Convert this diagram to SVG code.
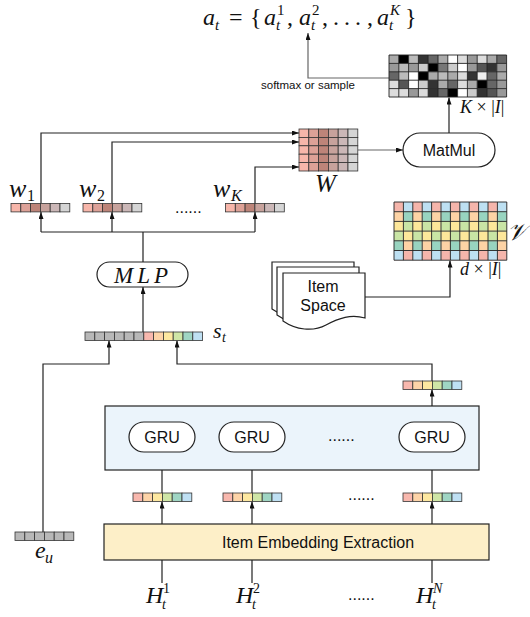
<svg xmlns="http://www.w3.org/2000/svg" xmlns:xlink="http://www.w3.org/1999/xlink" width="530" height="617" viewBox="0 0 530 617">
<style>
.ln{fill:none;stroke:#222;stroke-width:1.2}
.lg{fill:none;stroke:#666;stroke-width:1.2}
.cell{stroke:#333;stroke-width:0.8}
.grid{fill:none;stroke:#222;stroke-width:0.9}
.node{fill:#fff;stroke:#222;stroke-width:1.2}
.m{font-family:"Liberation Serif","DejaVu Serif",serif;font-style:italic;fill:#111}
.r{font-family:"Liberation Serif","DejaVu Serif",serif;fill:#111}
.s{font-family:"Liberation Sans",Arial,sans-serif;fill:#111}
.cal{font-family:"DejaVu Serif",serif;font-style:italic;fill:#111}
</style>
<defs>
<marker id="ah" viewBox="0 0 7 5" refX="7" refY="2.5" markerWidth="7" markerHeight="5" markerUnits="userSpaceOnUse" orient="auto"><path d="M0,0 L7,2.5 L0,5 z" fill="#111"/></marker>
<g id="wv" class="cell">
<rect x="0" y="0" width="9.8" height="8.4" fill="#f7b6aa"/>
<rect x="9.8" y="0" width="9.8" height="8.4" fill="#dda197"/>
<rect x="19.6" y="0" width="9.8" height="8.4" fill="#bd8479"/>
<rect x="29.4" y="0" width="9.8" height="8.4" fill="#c7a29c"/>
<rect x="39.2" y="0" width="9.8" height="8.4" fill="#cbb7b7"/>
<rect x="49" y="0" width="9.8" height="8.4" fill="#d5d5d5"/>
</g>
<g id="cv" class="cell">
<rect x="0" y="0" width="9.8" height="8.4" fill="#f8b8ae"/>
<rect x="9.8" y="0" width="9.8" height="8.4" fill="#fdd4a8"/>
<rect x="19.6" y="0" width="9.8" height="8.4" fill="#fde8a0"/>
<rect x="29.4" y="0" width="9.8" height="8.4" fill="#cfe6a6"/>
<rect x="39.2" y="0" width="9.8" height="8.4" fill="#9fd5c3"/>
<rect x="49" y="0" width="9.8" height="8.4" fill="#bfe0f3"/>
</g>
<g id="gv" class="cell" fill="#b8b8b8">
<rect x="0" y="0" width="9.8" height="8.4"/>
<rect x="9.8" y="0" width="9.8" height="8.4"/>
<rect x="19.6" y="0" width="9.8" height="8.4"/>
<rect x="29.4" y="0" width="9.8" height="8.4"/>
<rect x="39.2" y="0" width="9.8" height="8.4"/>
<rect x="49" y="0" width="9.8" height="8.4"/>
</g>
<pattern id="vpat" x="394" y="202" width="18.8" height="58.2" patternUnits="userSpaceOnUse">
<rect x="0" y="0" width="9.4" height="9.7" fill="#f5b5ab"/><rect x="9.4" y="0" width="9.4" height="9.7" fill="#bde0f2"/>
<rect x="0" y="9.7" width="9.4" height="9.7" fill="#fdd3a5"/><rect x="9.4" y="9.7" width="9.4" height="9.7" fill="#98d4c0"/>
<rect x="0" y="19.4" width="9.4" height="9.7" fill="#fde79a"/><rect x="9.4" y="19.4" width="9.4" height="9.7" fill="#c9e5a5"/>
<rect x="0" y="29.1" width="9.4" height="9.7" fill="#c9e5a5"/><rect x="9.4" y="29.1" width="9.4" height="9.7" fill="#fde79a"/>
<rect x="0" y="38.8" width="9.4" height="9.7" fill="#98d4c0"/><rect x="9.4" y="38.8" width="9.4" height="9.7" fill="#fdd3a5"/>
<rect x="0" y="48.5" width="9.4" height="9.7" fill="#bde0f2"/><rect x="9.4" y="48.5" width="9.4" height="9.7" fill="#f5b5ab"/>
</pattern>
</defs>

<rect width="530" height="617" fill="#fff"/>

<g id="formula">
<text class="m" x="203" y="25" font-size="24">a</text>
<text class="m" x="215" y="30" font-size="15">t</text>
<text class="r" x="229" y="25" font-size="24">=</text>
<text class="r" x="250" y="25" font-size="24">{</text>
<text class="m" x="264" y="25" font-size="24">a</text>
<text class="r" x="277" y="15" font-size="15">1</text>
<text class="m" x="276" y="30" font-size="15">t</text>
<text class="r" x="287" y="25" font-size="24">,</text>
<text class="m" x="299" y="25" font-size="24">a</text>
<text class="r" x="312" y="15" font-size="15">2</text>
<text class="m" x="311" y="30" font-size="15">t</text>
<text class="r" x="322" y="25" font-size="24">,</text>
<text class="r" x="333" y="25" font-size="24" letter-spacing="5">...</text>
<text class="r" x="367" y="25" font-size="24">,</text>
<text class="m" x="377" y="25" font-size="24">a</text>
<text class="m" x="390" y="15" font-size="15">K</text>
<text class="m" x="389" y="30" font-size="15">t</text>
<text class="r" x="405" y="25" font-size="24">}</text>
</g>

<g id="connectors">
<path class="lg" d="M389,78 H308 V33" marker-end="url(#ah)"/>
<path class="ln" d="M449,133 V97.5" marker-end="url(#ah)"/>
<path class="lg" d="M358,150 H403" marker-end="url(#ah)"/>
<path class="ln" d="M41,203 V133 H299" marker-end="url(#ah)"/>
<path class="ln" d="M112,203 V142 H299" marker-end="url(#ah)"/>
<path class="ln" d="M255,203 V167 H299" marker-end="url(#ah)"/>
<path class="ln" d="M143,262 V232 M41,232 H255"/>
<path class="ln" d="M41,232 V212" marker-end="url(#ah)"/>
<path class="ln" d="M112,232 V212" marker-end="url(#ah)"/>
<path class="ln" d="M255,232 V212" marker-end="url(#ah)"/>
<path class="ln" d="M143,332 V287" marker-end="url(#ah)"/>
<path class="ln" d="M43,532 V364 H109 V340.5" marker-end="url(#ah)"/>
<path class="ln" d="M432,381 V364 H177 V340.5" marker-end="url(#ah)"/>
<path class="ln" d="M432,422 V389.5" marker-end="url(#ah)"/>
<path class="ln" d="M365,297 H450 V260.5" marker-end="url(#ah)"/>
<path class="ln" d="M195,437 H219" marker-end="url(#ah)"/>
<path class="ln" d="M285,437 H308" marker-end="url(#ah)"/>
<path class="ln" d="M375,437 H399" marker-end="url(#ah)"/>
<path class="ln" d="M162,493 V452" marker-end="url(#ah)"/>
<path class="ln" d="M252,493 V452" marker-end="url(#ah)"/>
<path class="ln" d="M432,493 V452" marker-end="url(#ah)"/>
<path class="ln" d="M162,524 V501.5" marker-end="url(#ah)"/>
<path class="ln" d="M252,524 V501.5" marker-end="url(#ah)"/>
<path class="ln" d="M432,524 V501.5" marker-end="url(#ah)"/>
<path class="ln" d="M162,583 V560 M252,583 V560 M432,583 V560"/>
</g>

<g id="action-matrix">
<g>
<rect x="389" y="55" width="9.8" height="8.4" fill="#aaa"/><rect x="398.8" y="55" width="9.8" height="8.4" fill="#000"/><rect x="408.6" y="55" width="9.8" height="8.4" fill="#bbb"/><rect x="418.4" y="55" width="9.8" height="8.4" fill="#333"/><rect x="428.2" y="55" width="9.8" height="8.4" fill="#666"/><rect x="438" y="55" width="9.8" height="8.4" fill="#aaa"/><rect x="447.8" y="55" width="9.8" height="8.4" fill="#fff"/><rect x="457.6" y="55" width="9.8" height="8.4" fill="#ddd"/><rect x="467.4" y="55" width="9.8" height="8.4" fill="#999"/><rect x="477.2" y="55" width="9.8" height="8.4" fill="#ddd"/><rect x="487" y="55" width="9.8" height="8.4" fill="#aaa"/><rect x="496.8" y="55" width="9.8" height="8.4" fill="#666"/>
<rect x="389" y="63.4" width="9.8" height="8.4" fill="#999"/><rect x="398.8" y="63.4" width="9.8" height="8.4" fill="#bbb"/><rect x="408.6" y="63.4" width="9.8" height="8.4" fill="#999"/><rect x="418.4" y="63.4" width="9.8" height="8.4" fill="#ccc"/><rect x="428.2" y="63.4" width="9.8" height="8.4" fill="#000"/><rect x="438" y="63.4" width="9.8" height="8.4" fill="#777"/><rect x="447.8" y="63.4" width="9.8" height="8.4" fill="#ccc"/><rect x="457.6" y="63.4" width="9.8" height="8.4" fill="#fff"/><rect x="467.4" y="63.4" width="9.8" height="8.4" fill="#999"/><rect x="477.2" y="63.4" width="9.8" height="8.4" fill="#555"/><rect x="487" y="63.4" width="9.8" height="8.4" fill="#333"/><rect x="496.8" y="63.4" width="9.8" height="8.4" fill="#999"/>
<rect x="389" y="71.8" width="9.8" height="8.4" fill="#666"/><rect x="398.8" y="71.8" width="9.8" height="8.4" fill="#bbb"/><rect x="408.6" y="71.8" width="9.8" height="8.4" fill="#fff"/><rect x="418.4" y="71.8" width="9.8" height="8.4" fill="#000"/><rect x="428.2" y="71.8" width="9.8" height="8.4" fill="#aaa"/><rect x="438" y="71.8" width="9.8" height="8.4" fill="#bbb"/><rect x="447.8" y="71.8" width="9.8" height="8.4" fill="#aaa"/><rect x="457.6" y="71.8" width="9.8" height="8.4" fill="#ddd"/><rect x="467.4" y="71.8" width="9.8" height="8.4" fill="#333"/><rect x="477.2" y="71.8" width="9.8" height="8.4" fill="#eee"/><rect x="487" y="71.8" width="9.8" height="8.4" fill="#666"/><rect x="496.8" y="71.8" width="9.8" height="8.4" fill="#aaa"/>
<rect x="389" y="80.2" width="9.8" height="8.4" fill="#ddd"/><rect x="398.8" y="80.2" width="9.8" height="8.4" fill="#555"/><rect x="408.6" y="80.2" width="9.8" height="8.4" fill="#fff"/><rect x="418.4" y="80.2" width="9.8" height="8.4" fill="#ccc"/><rect x="428.2" y="80.2" width="9.8" height="8.4" fill="#333"/><rect x="438" y="80.2" width="9.8" height="8.4" fill="#aaa"/><rect x="447.8" y="80.2" width="9.8" height="8.4" fill="#666"/><rect x="457.6" y="80.2" width="9.8" height="8.4" fill="#ddd"/><rect x="467.4" y="80.2" width="9.8" height="8.4" fill="#aaa"/><rect x="477.2" y="80.2" width="9.8" height="8.4" fill="#000"/><rect x="487" y="80.2" width="9.8" height="8.4" fill="#666"/><rect x="496.8" y="80.2" width="9.8" height="8.4" fill="#999"/>
<rect x="389" y="88.6" width="9.8" height="8.4" fill="#ddd"/><rect x="398.8" y="88.6" width="9.8" height="8.4" fill="#ddd"/><rect x="408.6" y="88.6" width="9.8" height="8.4" fill="#999"/><rect x="418.4" y="88.6" width="9.8" height="8.4" fill="#ddd"/><rect x="428.2" y="88.6" width="9.8" height="8.4" fill="#333"/><rect x="438" y="88.6" width="9.8" height="8.4" fill="#666"/><rect x="447.8" y="88.6" width="9.8" height="8.4" fill="#000"/><rect x="457.6" y="88.6" width="9.8" height="8.4" fill="#fff"/><rect x="467.4" y="88.6" width="9.8" height="8.4" fill="#ccc"/><rect x="477.2" y="88.6" width="9.8" height="8.4" fill="#333"/><rect x="487" y="88.6" width="9.8" height="8.4" fill="#555"/><rect x="496.8" y="88.6" width="9.8" height="8.4" fill="#999"/>
</g>
<path class="grid" d="M389,55 V97 M398.8,55 V97 M408.6,55 V97 M418.4,55 V97 M428.2,55 V97 M438,55 V97 M447.8,55 V97 M457.6,55 V97 M467.4,55 V97 M477.2,55 V97 M487,55 V97 M496.8,55 V97 M506.6,55 V97 M389,55 H506.6 M389,63.4 H506.6 M389,71.8 H506.6 M389,80.2 H506.6 M389,88.6 H506.6 M389,97 H506.6"/>
<text class="s" x="261" y="89" font-size="11.5">softmax or sample</text>
<text class="r" x="460" y="113" font-size="18"><tspan font-style="italic">K</tspan> × |<tspan font-style="italic">I</tspan>|</text>
</g>

<g id="W">
<use xlink:href="#wv" x="299" y="129"/>
<use xlink:href="#wv" x="299" y="137.4"/>
<use xlink:href="#wv" x="299" y="145.8"/>
<use xlink:href="#wv" x="299" y="154.2"/>
<use xlink:href="#wv" x="299" y="162.6"/>
<text class="m" x="315" y="192" font-size="25">W</text>
</g>

<g id="matmul">
<rect class="node" x="403" y="133" width="92" height="34" rx="17"/>
<text class="s" x="449" y="156" font-size="16" text-anchor="middle">MatMul</text>
</g>

<g id="V">
<rect x="394" y="202" width="112.8" height="58.2" fill="url(#vpat)"/>
<path class="grid" d="M394,202 V260.2 M403.4,202 V260.2 M412.8,202 V260.2 M422.2,202 V260.2 M431.6,202 V260.2 M441,202 V260.2 M450.4,202 V260.2 M459.8,202 V260.2 M469.2,202 V260.2 M478.6,202 V260.2 M488,202 V260.2 M497.4,202 V260.2 M506.8,202 V260.2 M394,202 H506.8 M394,211.7 H506.8 M394,221.4 H506.8 M394,231.1 H506.8 M394,240.8 H506.8 M394,250.5 H506.8 M394,260.2 H506.8"/>
<text class="cal" x="507" y="240" font-size="24">𝒱</text>
<text class="r" x="460" y="275" font-size="18"><tspan font-style="italic">d</tspan> × |<tspan font-style="italic">I</tspan>|</text>
</g>

<g id="item-space">
<path class="node" d="M272,262 H354 V306 C340,302 328,306 315,313 C302,320 285,318 272,309 Z"/>
<path class="node" d="M277,267 H359 V312 C345,308 333,312 320,319 C307,326 290,324 277,315 Z"/>
<path class="node" d="M283,273 H365 V318 C351,314 339,318 326,325 C313,332 296,330 283,321 Z"/>
<text class="s" x="323" y="292" font-size="16" text-anchor="middle">Item</text>
<text class="s" x="323" y="311" font-size="16" text-anchor="middle">Space</text>
</g>

<g id="w1">
<use xlink:href="#wv" x="11" y="203.5"/>
<text class="m" x="9" y="197" font-size="26">w</text>
<text class="r" x="27" y="201" font-size="16">1</text>
</g>
<g id="w2">
<use xlink:href="#wv" x="83" y="203.5"/>
<text class="m" x="79" y="197" font-size="26">w</text>
<text class="r" x="97" y="201" font-size="16">2</text>
</g>
<g id="wdots"><text class="s" x="175" y="213" font-size="16">......</text></g>
<g id="wK">
<use xlink:href="#wv" x="225.5" y="203.5"/>
<text class="m" x="213" y="197" font-size="26">w</text>
<text class="m" x="231" y="201" font-size="16">K</text>
</g>

<g id="MLP">
<rect class="node" x="97" y="262" width="91" height="25" rx="12.5"/>
<text class="m" x="114" y="283" font-size="23" letter-spacing="4">MLP</text>
</g>

<g id="s_t">
<use xlink:href="#gv" x="85" y="332"/>
<use xlink:href="#cv" x="143.8" y="332"/>
<text class="m" x="213" y="338" font-size="22">s</text>
<text class="m" x="222" y="342" font-size="14">t</text>
</g>

<g id="gru-out">
<use xlink:href="#cv" x="403" y="381"/>
</g>

<g id="gru-block">
<rect x="105" y="406" width="374" height="64" fill="#ebf4fb" stroke="#222" stroke-width="1.2"/>
<rect class="node" x="129" y="422" width="66" height="30" rx="15"/>
<text class="s" x="162" y="443" font-size="16" text-anchor="middle">GRU</text>
<rect class="node" x="219" y="422" width="66" height="30" rx="15"/>
<text class="s" x="252" y="443" font-size="16" text-anchor="middle">GRU</text>
<text class="s" x="328" y="441" font-size="16">......</text>
<rect class="node" x="399" y="422" width="66" height="30" rx="15"/>
<text class="s" x="432" y="443" font-size="16" text-anchor="middle">GRU</text>
</g>

<g id="emb-vectors">
<use xlink:href="#cv" x="133" y="493"/>
<use xlink:href="#cv" x="223" y="493"/>
<text class="s" x="348" y="500" font-size="16">......</text>
<use xlink:href="#cv" x="403" y="493"/>
</g>

<g id="e_u">
<use xlink:href="#gv" x="15" y="532"/>
<text class="m" x="35" y="558" font-size="24">e</text>
<text class="m" x="45" y="563" font-size="16">u</text>
</g>

<g id="item-embedding">
<rect x="104" y="524" width="385" height="36" fill="#fdefc8" stroke="#222" stroke-width="1.2"/>
<text class="s" x="318" y="548" font-size="16" text-anchor="middle">Item Embedding Extraction</text>
</g>

<g id="H1">
<text class="m" x="146" y="603" font-size="24">H</text>
<text class="r" x="163" y="593" font-size="14">1</text>
<text class="m" x="162" y="609" font-size="14">t</text>
</g>
<g id="H2">
<text class="m" x="236" y="603" font-size="24">H</text>
<text class="r" x="253" y="593" font-size="14">2</text>
<text class="m" x="252" y="609" font-size="14">t</text>
</g>
<g id="Hdots"><text class="s" x="348" y="600" font-size="16">......</text></g>
<g id="HN">
<text class="m" x="416" y="603" font-size="24">H</text>
<text class="m" x="433" y="593" font-size="14">N</text>
<text class="m" x="432" y="609" font-size="14">t</text>
</g>
</svg>
